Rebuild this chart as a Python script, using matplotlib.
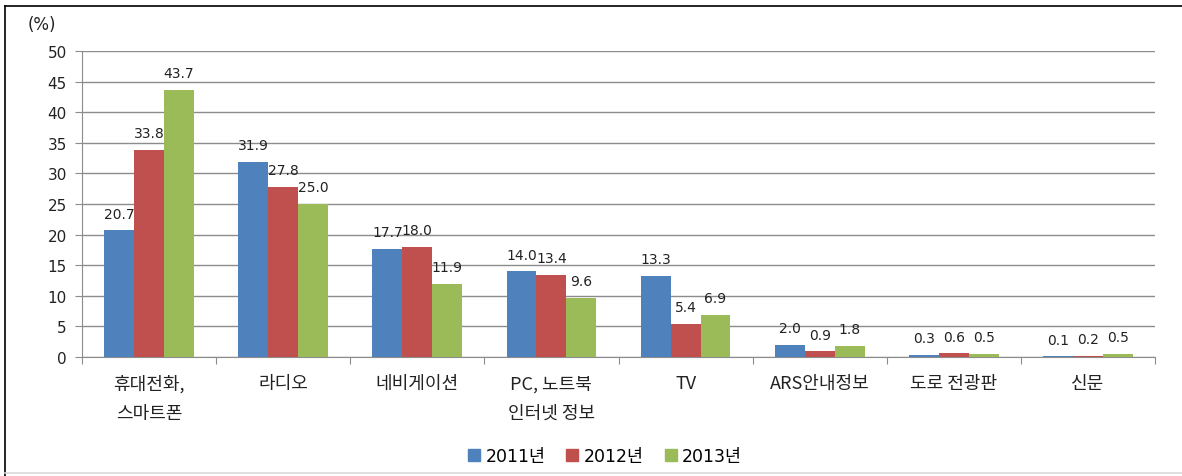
import matplotlib
matplotlib.use("Agg")
import matplotlib.pyplot as plt
import numpy as np
from matplotlib.lines import Line2D

plt.rcParams['font.family'] = ['Noto Sans CJK KR', 'DejaVu Sans']

categories = ["휴대전화,\n스마트폰", "라디오", "네비게이션", "PC, 노트북\n인터넷 정보", "TV",
              "ARS안내정보", "도로 전광판", "신문"]
series_names = ["2011년", "2012년", "2013년"]
v2011 = [20.7, 31.9, 17.7, 14.0, 13.3, 2.0, 0.3, 0.1]
v2012 = [33.8, 27.8, 18.0, 13.4, 5.4, 0.9, 0.6, 0.2]
v2013 = [43.7, 25.0, 11.9, 9.6, 6.9, 1.8, 0.5, 0.5]
yticks = [0, 5, 10, 15, 20, 25, 30, 35, 40, 45, 50]
colors = ["#4F81BD", "#C0504D", "#9BBB59"]

fig = plt.figure(figsize=(11.82, 4.77), dpi=100)
ax = fig.add_axes([82/1182, (477-358)/477, (1155-82)/1182, (358-52)/477])

x = np.arange(len(categories))
w = 0.223
series = [v2011, v2012, v2013]
for i, (vals, c, name) in enumerate(zip(series, colors, series_names)):
    pos = x + (i - 1) * w
    ax.bar(pos, vals, width=w, color=c, label=name, zorder=3)
    for xp, v in zip(pos, vals):
        ax.text(xp, v + 1.6, f"{v:.1f}", ha="center", va="bottom", fontsize=10,
                family="DejaVu Sans", color="#222222", zorder=4)

ax.set_xlim(-0.5, len(categories) - 0.5)
ax.set_ylim(0, 50)
ax.set_yticks(yticks)
ax.set_yticklabels([str(t) for t in yticks], fontsize=11, family="DejaVu Sans", color="#222222")
ax.yaxis.grid(True, color="#8c8c8c", linewidth=1, zorder=0)
ax.set_axisbelow(True)

ax.set_xticks(np.arange(len(categories) + 1) - 0.5, minor=False)
ax.set_xticklabels([])
ax.tick_params(axis="x", length=5, color="#8c8c8c", direction="out")
ax.tick_params(axis="y", length=5, color="#8c8c8c", direction="out", pad=6)
for i, cat in enumerate(categories):
    ax.text(i, -2.8, cat, ha="center", va="top", fontsize=13, color="#222222",
            linespacing=1.8, transform=ax.transData)

for s in ["top", "right"]:
    ax.spines[s].set_visible(False)
ax.spines["left"].set_color("#8c8c8c")
ax.spines["bottom"].set_color("#8c8c8c")

fig.text(42/1182, 1 - 25/477, "(%)", ha="center", va="center", fontsize=12,
         family="DejaVu Sans", color="#222222")

handles = [plt.Rectangle((0, 0), 1, 1, color=c) for c in colors]
fig.legend(handles, series_names, loc="center", bbox_to_anchor=(605/1182, 1 - 457/477),
           ncol=3, frameon=False, prop={"size": 12.5, "family": ["DejaVu Sans", "Noto Sans CJK KR"]},
           handlelength=0.7, handleheight=0.7, handletextpad=0.3, columnspacing=1.2)

# chart border
fig.add_artist(Line2D([5/1182, 5/1182], [0, 1 - 7/477], color="black", lw=1.2, transform=fig.transFigure))
fig.add_artist(Line2D([5/1182, 1], [1 - 7/477, 1 - 7/477], color="black", lw=1.2, transform=fig.transFigure))
fig.add_artist(Line2D([5/1182, 1], [3/477, 3/477], color="#d9d9d9", lw=1.2, transform=fig.transFigure))

fig.savefig("out.png", dpi=100)
